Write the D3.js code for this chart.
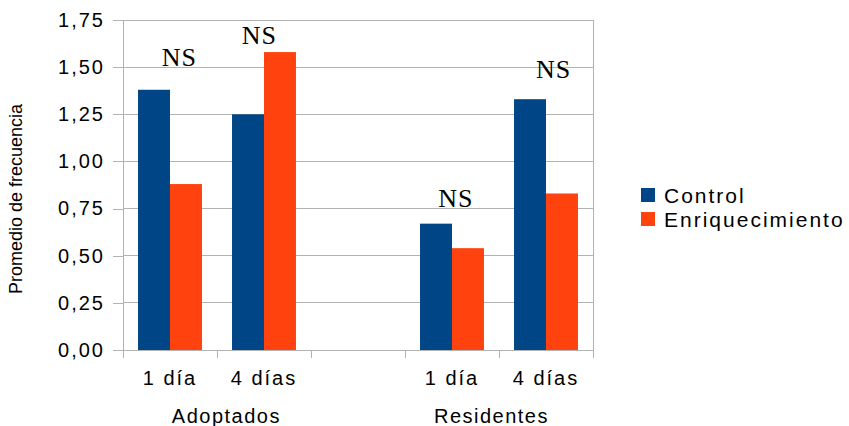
<!DOCTYPE html>
<html><head><meta charset="utf-8">
<script src="https://cdn.jsdelivr.net/npm/d3@7"></script>
<style>
body{margin:0;background:#fff;}
text{fill:#000;}
</style></head>
<body><svg id="c" width="849" height="426"></svg>
<script>
const categories = ["a1","a4","gap","r1","r4"];
const tickLabels = ["1 día","4 días","","1 día","4 días"];
const series = ["Control","Enriquecimiento"];
const control = [1.38,1.25,null,0.67,1.33];
const enriquecimiento = [0.88,1.58,null,0.54,0.83];
const yTicks = [0,0.25,0.5,0.75,1,1.25,1.5,1.75];
const groups = ["Adoptados","Residentes"];
const groupBands = [["a1","a4"],["r1","r4"]];
const groupOffset = [0.1,-0.08];
const nsCats = ["a1","a4","r1","r4"];
const nsValues = [1.504,1.621,0.758,1.441];
const nsOffset = [0.10,-0.05,0.04,0.08];
const colors = ["#004586","#ff420e"];

const SANS = "'Liberation Sans', Arial, sans-serif";
const SERIF = "'Liberation Serif', 'Times New Roman', serif";
const svg = d3.select("#c");
const m = {l:123,r:256,t:20,b:76};
const W = 849, H = 426;
const x = d3.scaleBand().domain(categories).range([m.l, W-m.r]);
const y = d3.scaleLinear().domain([0,1.75]).range([H-m.b, m.t]);
const x1 = d3.scaleBand().domain(series).range([0, x.bandwidth()]).paddingInner(0).paddingOuter(0.47);
const grid = "#b3b3b3";
const fmt = v => d3.format(".2f")(v).replace(".",",");

// gridlines
svg.append("g").selectAll("line").data(yTicks.filter(v=>v>0)).join("line")
  .attr("x1",m.l).attr("x2",W-m.r).attr("y1",d=>y(d)).attr("y2",d=>y(d))
  .attr("stroke",grid).attr("stroke-width",1).attr("shape-rendering","crispEdges");

// y axis
const ya = svg.append("g").attr("transform",`translate(${m.l},0)`)
  .call(d3.axisLeft(y).tickValues(yTicks).tickFormat(fmt).tickSize(10).tickPadding(8));
ya.select(".domain").remove();
ya.selectAll("line").attr("stroke",grid).attr("shape-rendering","crispEdges");
ya.selectAll("text").style("font-size","20px").style("letter-spacing","2px").attr("fill","#000")
  .style("font-family",SANS);
svg.append("line").attr("x1",m.l).attr("x2",m.l).attr("y1",m.t).attr("y2",y(0)+8)
  .attr("stroke",grid).attr("shape-rendering","crispEdges");
svg.append("line").attr("x1",W-m.r).attr("x2",W-m.r).attr("y1",m.t).attr("y2",y(0)+8)
  .attr("stroke",grid).attr("shape-rendering","crispEdges");

// x axis
const xa = svg.append("g").attr("transform",`translate(0,${y(0)})`);
xa.append("line").attr("x1",m.l-10).attr("x2",W-m.r).attr("stroke",grid).attr("shape-rendering","crispEdges");
const edges = categories.map(c=>x(c)).concat([x(categories[categories.length-1])+x.bandwidth()]);
xa.selectAll("line.tk").data(edges).join("line").attr("class","tk")
  .attr("x1",d=>d).attr("x2",d=>d).attr("y1",0).attr("y2",8)
  .attr("stroke",grid).attr("shape-rendering","crispEdges");
xa.selectAll("text.tl").data(categories).join("text").attr("class","tl")
  .attr("x",d=>x(d)+x.bandwidth()/2).attr("y",35)
  .attr("text-anchor","middle").style("font-family",SANS).style("font-size","20px").style("letter-spacing","2px")
  .text((d,i)=>tickLabels[i]);

// group labels
svg.selectAll("text.grp").data(groups).join("text").attr("class","grp")
  .attr("x",(d,i)=>{const a=x(groupBands[i][0]), b=x(groupBands[i][1])+x.bandwidth(); return (a+b)/2 + groupOffset[i]*x.bandwidth();})
  .attr("y",H-3).attr("text-anchor","middle").style("font-family",SANS).style("font-size","20px").style("letter-spacing","1.5px")
  .text(d=>d);

// bars
const vals = [control, enriquecimiento];
series.forEach((s,si)=>{
  svg.append("g").selectAll("rect").data(categories.map((c,i)=>({c,v:vals[si][i]})).filter(d=>d.v!=null)).join("rect")
    .attr("x",d=>x(d.c)+x1(s)).attr("width",x1.bandwidth())
    .attr("y",d=>y(d.v)).attr("height",d=>y(0)-y(d.v))
    .attr("fill",colors[si]);
});

// NS annotations
svg.selectAll("text.ns").data(nsCats).join("text").attr("class","ns")
  .attr("x",(d,i)=>x(d)+x.bandwidth()*(0.5+nsOffset[i])).attr("y",(d,i)=>y(nsValues[i]))
  .attr("text-anchor","middle").style("font-family",SERIF)
  .style("font-size","26px").style("letter-spacing","1px").text("NS");

// y title
svg.append("text").attr("transform","translate(22,199) rotate(-90)")
  .attr("text-anchor","middle").style("font-family",SANS).style("font-size","18px").text("Promedio de frecuencia");

// legend
const lg = svg.append("g").attr("transform","translate(641,188)");
series.forEach((s,i)=>{
  lg.append("rect").attr("x",0).attr("y",i*24).attr("width",14).attr("height",14).attr("fill",colors[i]);
  lg.append("text").attr("x",23).attr("y",i*24+14.5).style("font-family",SANS).style("font-size","21px").style("letter-spacing","2px").text(s);
});
</script></body></html>
